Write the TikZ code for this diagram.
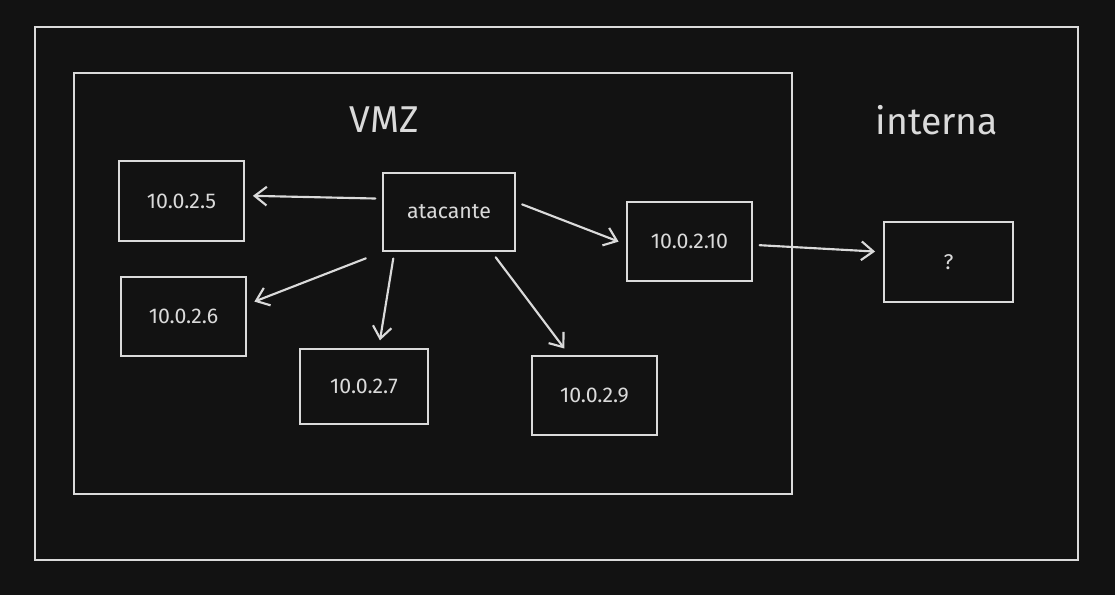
\documentclass[tikz,border=0pt]{standalone}
\usepackage{fontspec}
\setmainfont{Fira Sans}
\usetikzlibrary{arrows.meta}
\definecolor{bgcol}{HTML}{121212}
\definecolor{inkcol}{HTML}{DADADA}
\tikzset{every picture/.style={line width=1.5pt}}
\tikzset{
  hostbox/.style={draw=inkcol, fill=bgcol, text=inkcol, line width=1.4pt, minimum width=93.75pt, minimum height=59.5pt, inner sep=0.75pt, font=\fontsize{16}{19}\selectfont},
  link/.style={draw=inkcol, line width=1.6pt, line cap=round, -{Straight Barb[length=9pt,width=14pt,line width=1.6pt]}, shorten <=5pt, shorten >=6pt}
}
\begin{document}
\begin{tikzpicture}[x=0.75pt,y=0.75pt,yscale=-1,xscale=1]
\useasboundingbox (0,0) rectangle (1115,595);
\fill[bgcol] (0,0) rectangle (1115,595);

%Shape: Rectangle [outer]
\draw[inkcol, line width=1.4pt] (35,27) rectangle (1078,560);
%Shape: Rectangle [VMZ]
\draw[inkcol, line width=1.4pt] (74,73) rectangle (792,494);

% Text Node
\node (lvmz) [text=inkcol, font=\fontsize{28}{32}\selectfont, inner sep=0.75pt] at (384,120) {VMZ};
% Text Node
\node (lint) [text=inkcol, font=\fontsize{28}{32}\selectfont, inner sep=0.75pt] at (937,120) {interna};

% Hosts
\node (atk) [hostbox, minimum width=99pt, minimum height=58.5pt] at (449,212) {atacante};
\node (n5) [hostbox] at (181.5,201) {10.0.2.5};
\node (n6) [hostbox] at (183.5,316.5) {10.0.2.6};
\node (n7) [hostbox, minimum width=96pt, minimum height=56pt] at (364,386.5) {10.0.2.7};
\node (n9) [hostbox] at (594.5,395.5) {10.0.2.9};
\node (n10) [hostbox] at (689.5,241.5) {10.0.2.10};
\node (unk) [hostbox, minimum width=96.75pt, minimum height=60pt] at (948.5,262) {?};

% Arrows (yshift runs downward here, yscale=-1)
\draw[link] ([yshift=-10pt]atk.west) -- ([yshift=-4pt]n5.east);
\draw[link] ([xshift=-7.5pt,yshift=3pt]atk.south west) -- ([yshift=-9pt]n6.east);
\draw[link] ([xshift=-41pt]atk.south) -- ([xshift=11pt]n7.north);
\draw[link] ([xshift=32pt]atk.south) -- ([xshift=-19pt]n9.north);
\draw[link] ([yshift=-7.5pt]atk.east) -- ([yshift=2.25pt]n10.west);
\draw[link] ([yshift=2.5pt]n10.east) -- ([yshift=-7.5pt]unk.west);

\end{tikzpicture}
\end{document}
